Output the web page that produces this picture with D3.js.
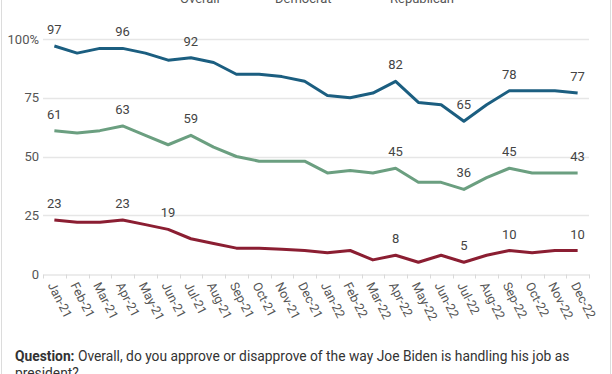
<!DOCTYPE html>
<html><head><meta charset="utf-8">
<script src="https://cdn.jsdelivr.net/npm/d3@7"></script>
<style>
html,body{margin:0;padding:0;background:#fff;overflow:hidden}
svg{display:block;font-family:Roboto,"Noto Sans",sans-serif}
</style></head>
<body>
<svg id="chart" width="612" height="374"></svg>
<script>
const months = ["Jan-21","Feb-21","Mar-21","Apr-21","May-21","Jun-21","Jul-21","Aug-21","Sep-21","Oct-21","Nov-21","Dec-21",
"Jan-22","Feb-22","Mar-22","Apr-22","May-22","Jun-22","Jul-22","Aug-22","Sep-22","Oct-22","Nov-22","Dec-22"];
const democrat   = [97,94,96,96,94,91,92,90,85,85,84,82,76,75,77,82,73,72,65,72,78,78,78,77];
const overall    = [61,60,61,63,59,55,59,54,50,48,48,48,43,44,43,45,39,39,36,41,45,43,43,43];
const republican = [23,22,22,23,21,19,15,13,11,11,10.5,10,9,10,6,8,5,8,5,8,10,9,10,10];
const overallLabelIdx    = [0,3,6,15,18,20,23];
const democratLabelIdx   = [0,3,6,15,18,20,23];
const republicanLabelIdx = [0,3,5,15,18,20,23];
const yTicks = [0,25,50,75,100];
const seriesNames = ["Overall","Democrat","Republican"];
const seriesColors = ["#6b9f80","#1b5e80","#8b1e32"];
const seriesData = [overall, democrat, republican];
const seriesLabels = [overallLabelIdx, democratLabelIdx, republicanLabelIdx];

const svg = d3.select("#chart");
const x = d3.scaleBand().domain(months).range([43,589]);
const y = d3.scaleLinear().domain([0,100]).range([274,39]);
const cx = m => x(m) + x.bandwidth()/2;

// frame
svg.append("line").attr("x1",1.5).attr("x2",1.5).attr("y1",0).attr("y2",374).attr("stroke","#dcdcdc");
svg.append("line").attr("x1",610.5).attr("x2",610.5).attr("y1",0).attr("y2",374).attr("stroke","#dcdcdc");

// grid
svg.append("g").selectAll("line").data(yTicks.filter(d=>d>0)).join("line")
  .attr("x1",43).attr("x2",589).attr("y1",d=>Math.round(y(d))+0.5).attr("y2",d=>Math.round(y(d))+0.5)
  .attr("stroke","#e6e6e6").attr("stroke-width",1.5);

// y axis labels
svg.append("g").selectAll("text").data(yTicks).join("text")
  .attr("x",39).attr("y",d=>y(d)).attr("dy","0.35em").attr("text-anchor","end")
  .attr("font-size",13).attr("fill","#555")
  .text(d=>d===100?"100%":d);

// x axis
const xAxis = d3.axisBottom(x).tickSize(0).tickFormat("");
const gx = svg.append("g").attr("transform","translate(0,274.5)").call(xAxis);
gx.select(".domain").attr("stroke","#d9d9d9");
const bounds = months.map(m=>x(m)).concat([x.range()[1]]);
gx.selectAll(".bt").data(bounds).join("line").attr("class","bt")
  .attr("x1",d=>Math.round(d)+0.5).attr("x2",d=>Math.round(d)+0.5).attr("y1",0).attr("y2",4)
  .attr("stroke","#d9d9d9");
svg.append("g").selectAll("text").data(months).join("text")
  .attr("transform",d=>`translate(${cx(d)-3},283) rotate(63)`)
  .attr("text-anchor","start").attr("dy","0.35em")
  .attr("font-size",12.5).attr("fill","#555").text(d=>d);

// lines
const line = d3.line().x((d,i)=>cx(months[i])).y(d=>y(d));
seriesData.forEach((s,k)=>{
  svg.append("path").datum(s).attr("d",line).attr("fill","none")
    .attr("stroke",seriesColors[k]).attr("stroke-width",3).attr("stroke-linejoin","round");
  svg.append("g").selectAll("text").data(seriesLabels[k]).join("text")
    .attr("x",i=>cx(months[i])).attr("y",i=>y(s[i])-12)
    .attr("text-anchor","middle").attr("font-size",13).attr("fill","#444")
    .text(i=>s[i]);
});

// legend (mostly cut off at top, as in the reference)
const legX = [180,275,390];
seriesNames.forEach((n,k)=>{
  svg.append("line").attr("x1",legX[k]-30).attr("x2",legX[k]-6).attr("y1",-4).attr("y2",-4)
    .attr("stroke",seriesColors[k]).attr("stroke-width",3);
  svg.append("text").attr("x",legX[k]).attr("y",2.5).attr("font-size",13).attr("fill","#555").text(n);
});

// question note
const note = svg.append("text").attr("x",15).attr("y",361).attr("font-size",13.8).attr("fill","#333");
note.append("tspan").attr("font-weight","bold").text("Question:");
note.append("tspan").text(" Overall, do you approve or disapprove of the way Joe Biden is handling his job as");
svg.append("text").attr("x",15).attr("y",378).attr("font-size",13.8).attr("fill","#333").text("president?");
</script>
</body></html>
